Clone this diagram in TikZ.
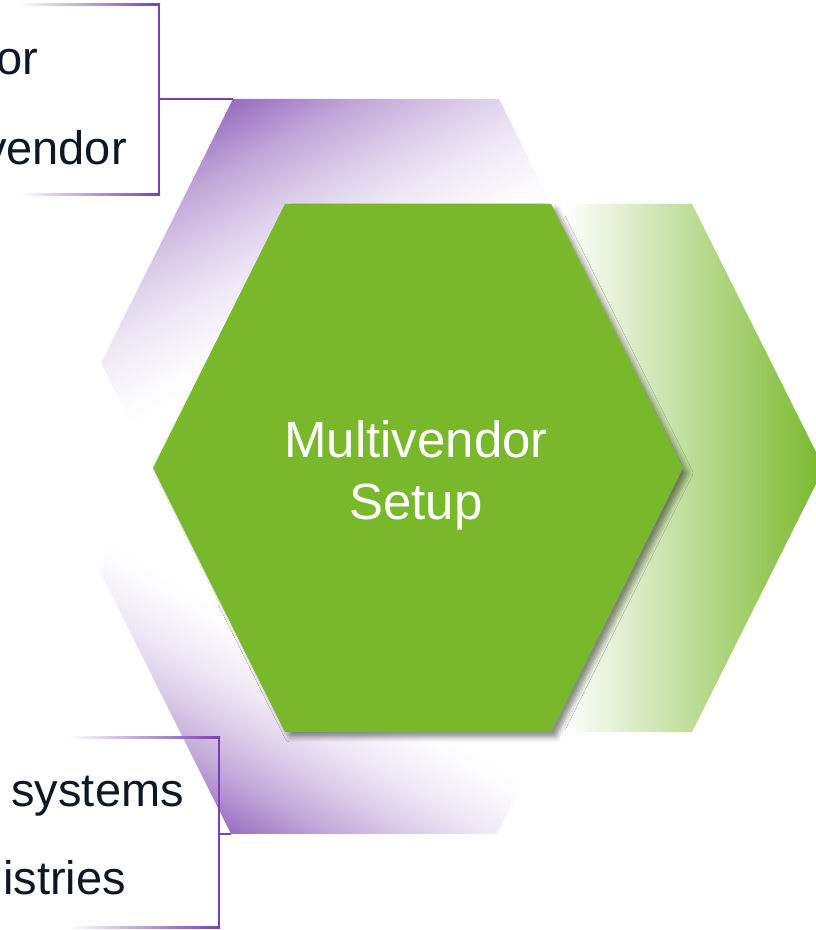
\documentclass[tikz,border=0pt]{standalone}
\usepackage{fontspec}
\setmainfont{Liberation Sans}
\usetikzlibrary{shadows.blur}

\definecolor{hexgreen}{RGB}{120,184,42}
\definecolor{hexpurple}{RGB}{142,94,186}
\definecolor{linepurple}{RGB}{122,64,178}
\definecolor{textnavy}{RGB}{14,23,38}

% stretched hexagon round a centre
\newcommand{\hexshape}[2]{(#1-265,#2) -- (#1-133,#2+264) -- (#1+133,#2+264) -- (#1+265,#2) -- (#1+133,#2-264) -- (#1-133,#2-264) -- cycle}

\begin{document}
\begin{tikzpicture}[x=1pt,y=1pt]
\tikzstyle{every node}=[font=\fontsize{47}{56}\selectfont, text=textnavy, inner sep=0pt]
\tikzstyle{callout line}=[linepurple, line width=2pt]
\tikzstyle{fade line}=[left color=white, right color=linepurple]

\useasboundingbox (0,0) rectangle (816,930);
\clip (0,0) rectangle (816,930);

% upper purple hexagon, fading out from its top left corner
\begin{scope}
\clip \hexshape{366}{567};
\foreach \ya/\yb/\ca/\cb in {235.5/310/55/100, 185.5/236/33/55, 135.5/186/15/33, 85.5/136/4/15, 55.5/86/0/4}
	\shade[transform canvas={shift={(366,567)},rotate=28}, bottom color=hexpurple!\ca, top color=hexpurple!\cb] (-500,\ya) rectangle (500,\yb);
\end{scope}

% lower purple hexagon, fading out from its bottom left corner
\begin{scope}
\clip \hexshape{364}{360};
\foreach \ya/\yb/\ca/\cb in {-310/-247/100/55, -247.5/-207/55/33, -207.5/-167/33/15, -167.5/-127/15/4, -127.5/-103/4/0}
	\shade[transform canvas={shift={(364,360)},rotate=-30}, bottom color=hexpurple!\ca, top color=hexpurple!\cb] (-500,\ya) rectangle (500,\yb);
\end{scope}

% faded green hexagon behind
\begin{scope}
\clip \hexshape{559}{462};
\shade[left color=white, right color=hexgreen] (565,150) rectangle (826,780);
\end{scope}

% main green hexagon
\fill[hexgreen, blur shadow={shadow xshift=5pt, shadow yshift=-5pt, shadow blur radius=5pt, shadow opacity=45}] \hexshape{418}{462};
\node[text=white, font=\fontsize{51}{62}\selectfont, align=center] (setup) at (416,455) {Multivendor\\Setup};

% corners where the callouts meet the hexagons
\coordinate (upcorner) at (233,831);
\coordinate (lowcorner) at (231,96);

% top callout
\coordinate (topbracket) at (159,831);
\shade[fade line] (18,924) rectangle (160,926);
\shade[fade line] (18,734) rectangle (160,736);
\draw[callout line] (159,926) -- (159,734);
\draw[callout line] (topbracket) -- (upcorner);
\node[anchor=base east] (ortxt) at (38,855) {or};
\node[anchor=base east] (vendortxt) at (127,765) {vendor};

% bottom callout
\coordinate (lowbracket) at (219,96);
\shade[fade line] (68,191) rectangle (220,193);
\shade[fade line] (68,1) rectangle (220,3);
\draw[callout line] (219,193) -- (219,1);
\draw[callout line] (lowbracket) -- (lowcorner);
\node[anchor=base east] (systemstxt) at (184,123) {systems};
\node[anchor=base east] (istriestxt) at (126,35) {istries};

\end{tikzpicture}
\end{document}
